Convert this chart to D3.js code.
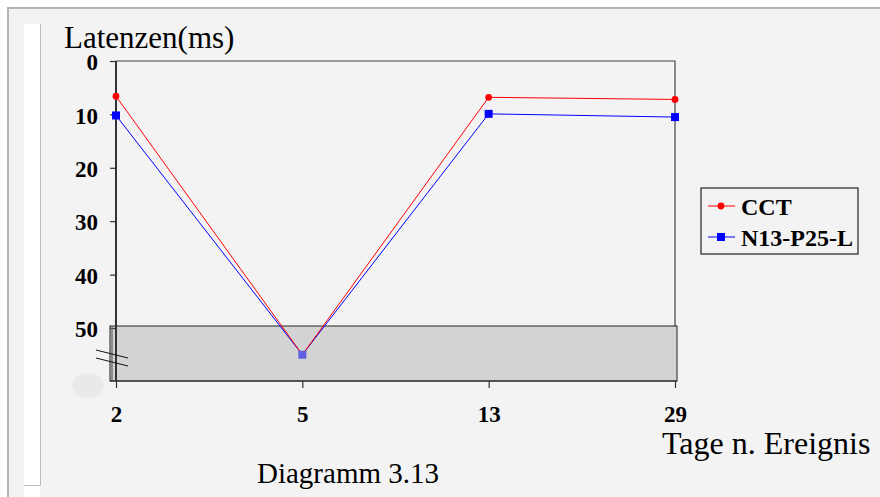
<!DOCTYPE html>
<html>
<head>
<meta charset="utf-8">
<script src="https://cdn.jsdelivr.net/npm/d3@7"></script>
<style>
  body { margin: 0; background: #fff; }
  svg { display: block; }
  svg text { font-family: 'Liberation Serif', 'DejaVu Serif', serif; }
</style>
</head>
<body>
<svg id="chart" width="880" height="497"></svg>
<script>
const days = ['2', '5', '13', '29'];
const cct = [6.6, 55, 6.8, 7.2];
const n13 = [10.2, 55, 9.9, 10.5];
const yTicks = [0, 10, 20, 30, 40, 50];
const seriesNames = ['CCT', 'N13-P25-L'];

const svg = d3.select('#chart');

// frame
svg.append('rect').attr('x', 8).attr('y', 8).attr('width', 890).attr('height', 500)
  .attr('fill', '#f3f3f3').attr('stroke', '#b4b4b4').attr('stroke-width', 2);
svg.append('rect').attr('x', 24).attr('y', 24).attr('width', 16).attr('height', 481)
  .attr('fill', '#fff');
svg.append('path').attr('d', 'M40.5,24V485.5H24').attr('fill', 'none')
  .attr('stroke', '#bbb').attr('stroke-width', 1);

const pLeft = 116, pRight = 675, pTop = 61, pBottom = 381;

const x = d3.scalePoint().domain(days).range([pLeft, pRight]);
const y = d3.scaleLinear().domain([0, 10]).range([pTop, pTop + 53.4]);

// plot frame (top + right)
svg.append('path').attr('d', `M${pLeft},${pTop}H${pRight}V${pBottom}`)
  .attr('fill', 'none').attr('stroke', '#444').attr('stroke-width', 1.2);

// broken-axis band
svg.append('rect').attr('x', 110).attr('y', 326).attr('width', pRight - 110 + 2).attr('height', pBottom - 326)
  .attr('fill', '#d3d3d3').attr('stroke', '#222').attr('stroke-width', 1);

// y axis
const yAxis = svg.append('g').attr('transform', `translate(${pLeft},0)`)
  .call(d3.axisLeft(y).tickValues(yTicks).tickSize(6).tickPadding(12));
yAxis.attr('font-family', null).attr('font-size', null);
yAxis.select('.domain').attr('d', `M0,${pTop}V${pBottom}`).attr('stroke', '#333').attr('stroke-width', 2);
yAxis.selectAll('.tick line').attr('stroke', '#333').attr('stroke-width', 1.2);
yAxis.selectAll('.tick text').attr('font-size', 23).attr('dy', '0.38em')
  .attr('font-weight', 'bold').attr('fill', '#000');
svg.append('line').attr('x1', 112).attr('x2', 112).attr('y1', 326).attr('y2', pBottom)
  .attr('stroke', '#777').attr('stroke-width', 1.5);

// x axis
const xAxis = svg.append('g').attr('transform', `translate(0,${pBottom})`)
  .call(d3.axisBottom(x).tickSize(7));
xAxis.attr('font-family', null).attr('font-size', null);
xAxis.select('.domain').attr('d', `M${pLeft - 6},0H${pRight + 2}`).attr('stroke', '#222').attr('stroke-width', 1.2);
xAxis.selectAll('.tick line').attr('stroke', '#333').attr('stroke-width', 1.2);
xAxis.selectAll('.tick text').attr('font-size', 23).attr('y', 41).attr('dy', null)
  .attr('font-weight', 'bold').attr('fill', '#000');

// axis break marks
svg.append('line').attr('x1', 96).attr('y1', 350).attr('x2', 128).attr('y2', 358).attr('stroke', '#111');
svg.append('line').attr('x1', 96).attr('y1', 358).attr('x2', 128).attr('y2', 366).attr('stroke', '#111');
svg.append('ellipse').attr('cx', 88).attr('cy', 385.5).attr('rx', 16).attr('ry', 12.5).attr('fill', '#e9e9e9');

// series
const line = d3.line().x((d, i) => x(days[i])).y(d => y(d));
svg.append('path').datum(n13).attr('d', line).attr('fill', 'none').attr('stroke', '#0000ff').attr('stroke-width', 1);
svg.append('path').datum(cct).attr('d', line).attr('fill', 'none').attr('stroke', '#ff0000').attr('stroke-width', 1);

svg.selectAll('.mk-cct').data(cct).join('path').attr('class', 'mk-cct')
  .attr('transform', (d, i) => `translate(${x(days[i])},${y(d)})`)
  .attr('d', d3.symbol(d3.symbolCircle, 36)).attr('fill', '#ff0000');
svg.selectAll('.mk-n13').data(n13).join('rect').attr('class', 'mk-n13')
  .attr('x', (d, i) => x(days[i]) - 4).attr('y', d => y(d) - 4)
  .attr('width', 8).attr('height', 8)
  .attr('fill', (d, i) => i === 1 ? '#5f5fe0' : '#0000ff');

// legend
const lg = svg.append('g').attr('transform', 'translate(701,188)');
lg.append('rect').attr('width', 157).attr('height', 66).attr('fill', '#f3f3f3')
  .attr('stroke', '#222').attr('stroke-width', 1.2);
const colors = ['#ff0000', '#0000ff'];
seriesNames.forEach((name, i) => {
  const cy = 18 + i * 31;
  lg.append('line').attr('x1', 7).attr('x2', 34).attr('y1', cy).attr('y2', cy).attr('stroke', colors[i]);
  if (i === 0) {
    lg.append('path').attr('transform', `translate(20,${cy})`).attr('d', d3.symbol(d3.symbolCircle, 36)).attr('fill', colors[i]);
  } else {
    lg.append('rect').attr('x', 16).attr('y', cy - 4).attr('width', 8).attr('height', 8).attr('fill', colors[i]);
  }
  lg.append('text').attr('x', 40).attr('y', cy).attr('dy', '0.36em')
    .attr('font-size', 24).attr('font-weight', 'bold').text(name);
});

// titles
svg.append('text').attr('x', 64).attr('y', 48).attr('font-size', 31).text('Latenzen(ms)');
svg.append('text').attr('x', 662).attr('y', 454).attr('font-size', 32).text('Tage n. Ereignis');
svg.append('text').attr('x', 257).attr('y', 483).attr('font-size', 29).text('Diagramm 3.13');
</script>
</body>
</html>
